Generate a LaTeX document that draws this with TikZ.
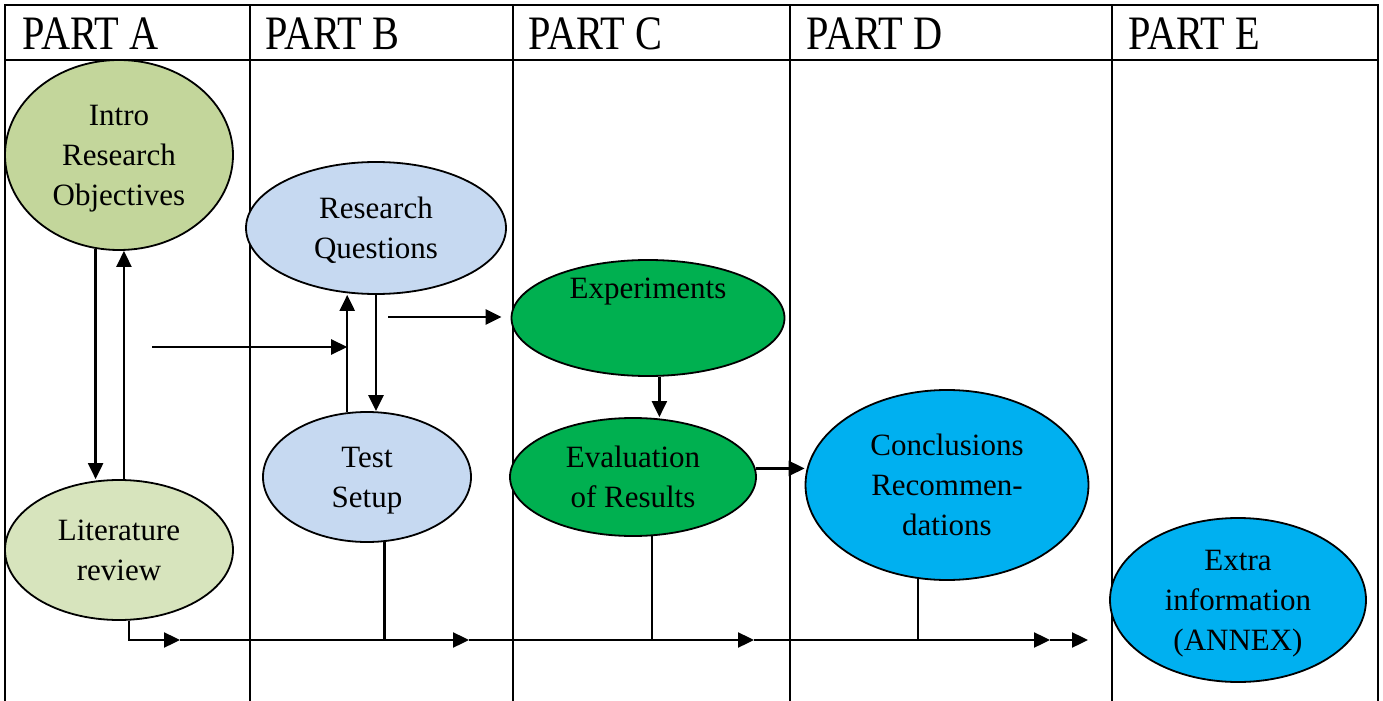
\documentclass[tikz,border=0pt]{standalone}
\usepackage{fontspec}
\setmainfont{Liberation Serif}
\newfontfamily\headfont[FakeStretch=0.84]{Liberation Serif}
\usepackage{xcolor}
\usetikzlibrary{arrows.meta,positioning,calc,shapes.geometric}
\definecolor{introgreen}{HTML}{C3D69B}
\definecolor{litgreen}{HTML}{D7E4BD}
\definecolor{qblue}{HTML}{C6D9F1}
\definecolor{expgreen}{HTML}{00B050}
\definecolor{endblue}{HTML}{00B0F0}

\begin{document}
\begin{tikzpicture}[
  x=0.5pt, y=-0.5pt,
  grid/.style={line width=1.1pt},
  head/.style={anchor=base west, inner sep=0pt, font=\headfont\fontsize{24}{28}\selectfont},
  blob/.style={draw, ellipse, line width=0.9pt, inner sep=0pt, align=center, text depth=-3pt, font=\fontsize{15.5}{20}\selectfont},
  partA/.style={blob, fill=introgreen},
  partAlit/.style={blob, fill=litgreen},
  partB/.style={blob, fill=qblue},
  partC/.style={blob, fill=expgreen},
  partD/.style={blob, fill=endblue},
  arr/.style={-{Triangle[length=8pt,width=7.5pt]}, line width=1.2pt},
  link/.style={line width=1.2pt}
]
\useasboundingbox (0,0) rectangle (1383,701);

\draw[grid] (5,701) -- (5,5) -- (1378,5) -- (1378,701);
\draw[grid] (5,60) -- (1378,60);
\foreach \x in {250,513,790,1112}
  \draw[grid] (\x,5) -- (\x,701);

\node[head] (hA) at (22,50) {PART A};
\node[head] (hB) at (265,50) {PART B};
\node[head] (hC) at (528,50) {PART C};
\node[head] (hD) at (806,50) {PART D};
\node[head] (hE) at (1128,50) {PART E};

\node[partA, minimum width=114pt, minimum height=95pt] (intro) at (119,155) {Intro\\Research\\Objectives};
\node[partAlit, minimum width=114pt, minimum height=70pt] (lit) at (119,550) {Literature\\review};
\node[partB, minimum width=130pt, minimum height=66pt] (rq) at (376,228) {Research\\Questions};
\node[partB, minimum width=104pt, minimum height=65pt] (test) at (367,477) {Test\\Setup};
\node[partC, minimum width=136.5pt, minimum height=58pt] (exper) at (648,318) {Experiments\\[10pt] \mbox{}};
\node[partC, minimum width=123pt, minimum height=59pt] (eval) at (633,477) {Evaluation\\of Results};
\node[partD, minimum width=141.5pt, minimum height=95pt] (concl) at (947,485) {Conclusions\\Recommen-\\dations};
\node[partD, minimum width=128pt, minimum height=82pt] (extra) at (1238,600) {Extra\\information\\(ANNEX)};

\draw[arr] (intro.256) -- (intro.256 |- lit.north);
\draw[arr] (lit.86) -- (lit.86 |- intro.south);
\coordinate (fromA) at (152,347);
\draw[arr] (fromA) -- (fromA -| test.107);
\draw[arr] (test.107) -- (test.107 |- rq.south);
\draw[arr] (rq.south) -- (rq.south |- test.north);
\coordinate (toC) at (388,317);
\draw[arr] (toC) -- ($(toC -| exper.west)+(-9,0)$);
\draw[arr] (exper.281) -- (exper.281 |- eval.north);
\draw[arr] (eval.4) -- (eval.4 -| concl.west);

\coordinate (b1) at (180,640);
\coordinate (b2) at (469,640);
\coordinate (b3) at (754,640);
\coordinate (b4) at (1050,640);
\coordinate (b5) at (1088,640);
\draw[arr] (lit.278) |- (b1);
\draw[arr] (b1) -- (b2);
\draw[arr] (b2) -- (b3);
\draw[arr] (b3) -- (b4);
\draw[arr] (b4) -- (b5);
\draw[link] (test.285) -- (test.285 |- b2);
\draw[link] (eval.288) -- (eval.288 |- b3);
\draw[link] (concl.253) -- (concl.253 |- b4);
\end{tikzpicture}
\end{document}
